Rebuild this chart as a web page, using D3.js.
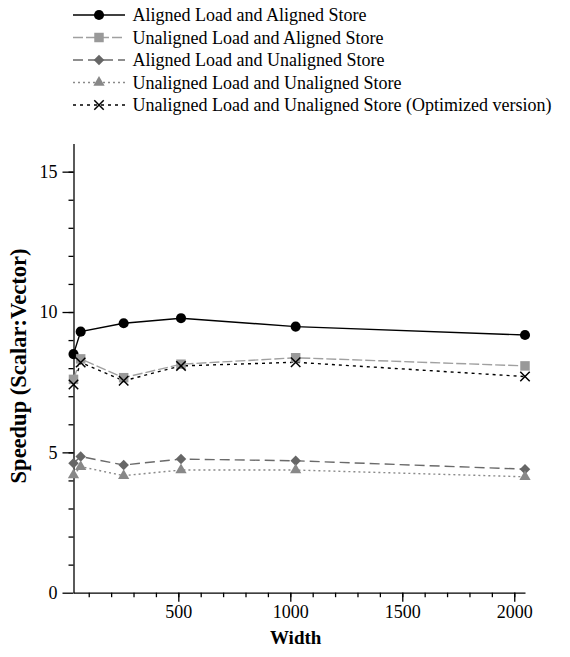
<!DOCTYPE html>
<html>
<head>
<meta charset="utf-8">
<script src="https://d3js.org/d3.v7.min.js"></script>
<style>
    body { margin: 0; background: #ffffff; }
    text { font-family: "Liberation Serif", "Times New Roman", serif; fill: #000000; }
    .axis path, .axis line { stroke: #000000; stroke-width: 1.3px; }
    .axis text { font-size: 18px; }
    text.axis-title { font-size: 19px; font-weight: bold; }
    text.legend-label { font-size: 18px; }
</style>
</head>
<body>
<div id="chart"></div>
<script>

    // data
    const widths = [32, 64, 256, 512, 1024, 2048];

    const seriesNames = [
        "Aligned Load and Aligned Store",
        "Unaligned Load and Aligned Store",
        "Aligned Load and Unaligned Store",
        "Unaligned Load and Unaligned Store",
        "Unaligned Load and Unaligned Store (Optimized version)"
    ];

    const alignedAligned     = [8.5, 9.3, 9.6, 9.78, 9.48, 9.18];
    const unalignedAligned   = [7.6, 8.33, 7.66, 8.14, 8.37, 8.08];
    const alignedUnaligned   = [4.61, 4.85, 4.55, 4.76, 4.7, 4.4];
    const unalignedUnaligned = [4.19, 4.49, 4.17, 4.37, 4.37, 4.13];
    const optimized          = [7.42, 8.2, 7.55, 8.08, 8.21, 7.7];

    const xMajorTicks = [500, 1000, 1500, 2000];
    const yMajorTicks = [0, 5, 10, 15];

    // styles for each series
    const styles = [
        {values: alignedAligned,     color: "#000000", markColor: "#000000", dash: null,   symbol: d3.symbolCircle,   size: 80},
        {values: unalignedAligned,   color: "#a0a0a0", markColor: "#999999", dash: "10,3", symbol: d3.symbolSquare,   size: 90},
        {values: alignedUnaligned,   color: "#6a6a6a", markColor: "#666666", dash: "10,5", symbol: d3.symbolDiamond2, size: 70},
        {values: unalignedUnaligned, color: "#8a8a8a", markColor: "#888888", dash: "2,3",  symbol: d3.symbolTriangle, size: 55},
        {values: optimized,          color: "#000000", markColor: "#000000", dash: "3,4",  symbol: d3.symbolX,        size: 60}
    ];

    const svg = d3.select("#chart")
        .append("svg")
        .attr("width", 570)
        .attr("height", 657);

    const x = d3.scaleLinear()
        .domain([32, 2048])
        .range([73.5, 525]);

    const y = d3.scaleLinear()
        .domain([0, 16])
        .range([592.7, 143.6]);

    // X axis: minor ticks then major ticks with labels
    svg.append("g")
        .attr("class", "axis")
        .attr("transform", "translate(0,592.7)")
        .call(d3.axisBottom(x).tickValues(d3.range(100, 2001, 100)).tickSize(4.5).tickSizeOuter(0).tickFormat(""));
    svg.append("g")
        .attr("class", "axis")
        .attr("transform", "translate(0,592.7)")
        .call(d3.axisBottom(x).tickValues(xMajorTicks).tickSize(9).tickSizeOuter(0).tickPadding(4).tickFormat(d3.format("d")))
        .call(g => g.select(".domain").remove());

    // Y axis
    svg.append("g")
        .attr("class", "axis")
        .attr("transform", "translate(73.5,0)")
        .call(d3.axisLeft(y).tickValues(d3.range(1, 16)).tickSize(5).tickSizeOuter(0).tickFormat(""));
    svg.append("g")
        .attr("class", "axis")
        .attr("transform", "translate(73.5,0)")
        .call(d3.axisLeft(y).tickValues(yMajorTicks).tickSize(11).tickSizeOuter(0).tickPadding(5).tickFormat(d3.format("d")))
        .call(g => g.select(".domain").remove());

    svg.selectAll(".axis").attr("font-family", null).attr("font-size", null);

    // axis titles
    svg.append("text")
        .attr("class", "axis-title")
        .attr("x", x(1024))
        .attr("y", 644)
        .attr("text-anchor", "middle")
        .text("Width");

    svg.append("text")
        .attr("class", "axis-title")
        .attr("transform", "translate(26,366) rotate(-90)")
        .attr("text-anchor", "middle")
        .style("font-size", "22.5px")
        .text("Speedup (Scalar:Vector)");

    // lines and markers
    const line = d3.line()
        .x((d, i) => x(widths[i]))
        .y(d => y(d));

    styles.forEach(function(s) {
        svg.append("path")
            .datum(s.values)
            .attr("d", line)
            .attr("fill", "none")
            .attr("stroke", s.color)
            .attr("stroke-width", 1.4)
            .attr("stroke-dasharray", s.dash);
    });

    styles.forEach(function(s) {
        const isX = s.symbol === d3.symbolX;
        svg.selectAll(null)
            .data(s.values)
            .join("path")
            .attr("transform", (d, i) => "translate(" + x(widths[i]) + "," + y(d) + ")")
            .attr("d", d3.symbol().type(s.symbol).size(s.size))
            .attr("fill", isX ? "none" : s.markColor)
            .attr("stroke", isX ? s.markColor : "none")
            .attr("stroke-width", isX ? 1.5 : 0);
    });

    // legend
    const legend = svg.append("g");
    styles.forEach(function(s, i) {
        const ly = 15 + i * 22.5;
        legend.append("line")
            .attr("x1", 73).attr("x2", 125)
            .attr("y1", ly).attr("y2", ly)
            .attr("stroke", s.color)
            .attr("stroke-width", 1.4)
            .attr("stroke-dasharray", s.dash);
        const isX = s.symbol === d3.symbolX;
        legend.append("path")
            .attr("transform", "translate(99," + ly + ")")
            .attr("d", d3.symbol().type(s.symbol).size(s.size))
            .attr("fill", isX ? "none" : s.markColor)
            .attr("stroke", isX ? s.markColor : "none")
            .attr("stroke-width", isX ? 1.5 : 0);
        legend.append("text")
            .attr("class", "legend-label")
            .attr("x", 132.5)
            .attr("y", ly)
            .attr("dy", "0.35em")
            .text(seriesNames[i]);
    });

</script>
</body>
</html>
